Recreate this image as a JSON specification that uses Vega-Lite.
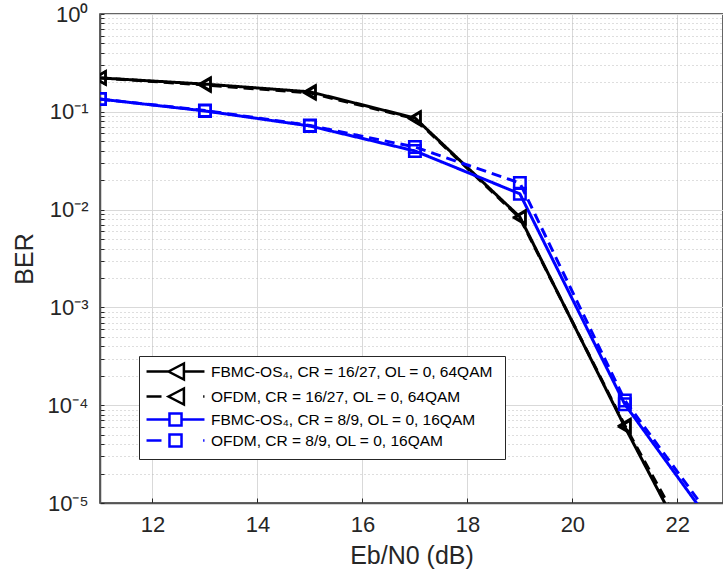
{
  "$schema": "https://vega.github.io/schema/vega-lite/v6.json",
  "width": 623,
  "height": 489,
  "autosize": "none",
  "padding": {"left": 100, "top": 14, "right": 0, "bottom": 78},
  "background": "white",
  "config": {"view": {"stroke": "#333333", "strokeWidth": 1.5}, "font": "Liberation Sans"},
  "data": {"values": [
    {"series": "f64", "marker": "tri", "dash": "solid", "ebn0": 11, "ber": 0.222},
    {"series": "f64", "marker": "tri", "dash": "solid", "ebn0": 13, "ber": 0.192},
    {"series": "f64", "marker": "tri", "dash": "solid", "ebn0": 15, "ber": 0.16},
    {"series": "f64", "marker": "tri", "dash": "solid", "ebn0": 17, "ber": 0.0865},
    {"series": "f64", "marker": "tri", "dash": "solid", "ebn0": 19, "ber": 0.0084},
    {"series": "f64", "marker": "tri", "dash": "solid", "ebn0": 21, "ber": 0.00006},
    {"series": "f64", "marker": "tri", "dash": "solid", "ebn0": 23, "ber": 0.00000054},
    {"series": "o64", "marker": "tri", "dash": "dashed", "ebn0": 11, "ber": 0.222},
    {"series": "o64", "marker": "tri", "dash": "dashed", "ebn0": 13, "ber": 0.188},
    {"series": "o64", "marker": "tri", "dash": "dashed", "ebn0": 15, "ber": 0.156},
    {"series": "o64", "marker": "tri", "dash": "dashed", "ebn0": 17, "ber": 0.085},
    {"series": "o64", "marker": "tri", "dash": "dashed", "ebn0": 19, "ber": 0.0082},
    {"series": "o64", "marker": "tri", "dash": "dashed", "ebn0": 21, "ber": 0.000062},
    {"series": "o64", "marker": "tri", "dash": "dashed", "ebn0": 23, "ber": 0.0000007},
    {"series": "f16", "marker": "sq", "dash": "solid", "ebn0": 11, "ber": 0.135},
    {"series": "f16", "marker": "sq", "dash": "solid", "ebn0": 13, "ber": 0.102},
    {"series": "f16", "marker": "sq", "dash": "solid", "ebn0": 15, "ber": 0.0716},
    {"series": "f16", "marker": "sq", "dash": "solid", "ebn0": 17, "ber": 0.0398},
    {"series": "f16", "marker": "sq", "dash": "solid", "ebn0": 19, "ber": 0.0145},
    {"series": "f16", "marker": "sq", "dash": "solid", "ebn0": 21, "ber": 0.000102},
    {"series": "f16", "marker": "sq", "dash": "solid", "ebn0": 23, "ber": 0.0000034},
    {"series": "o16", "marker": "sq", "dash": "dashed", "ebn0": 11, "ber": 0.135},
    {"series": "o16", "marker": "sq", "dash": "dashed", "ebn0": 13, "ber": 0.103},
    {"series": "o16", "marker": "sq", "dash": "dashed", "ebn0": 15, "ber": 0.0725},
    {"series": "o16", "marker": "sq", "dash": "dashed", "ebn0": 17, "ber": 0.0436},
    {"series": "o16", "marker": "sq", "dash": "dashed", "ebn0": 19, "ber": 0.0187},
    {"series": "o16", "marker": "sq", "dash": "dashed", "ebn0": 21, "ber": 0.000112},
    {"series": "o16", "marker": "sq", "dash": "dashed", "ebn0": 23, "ber": 0.0000039}
  ]},
  "encoding": {
    "x": {
      "field": "ebn0", "type": "quantitative",
      "scale": {"domain": [11, 22.87], "nice": false, "zero": false},
      "axis": {
        "title": "Eb/N0 (dB)", "titleFontSize": 25, "titleFontWeight": "normal", "titleColor": "#262626", "titlePadding": 8,
        "values": [12, 14, 16, 18, 20, 22],
        "labelFontSize": 22, "labelColor": "#262626", "labelPadding": 16,
        "tickSize": -5, "tickColor": "#262626", "tickWidth": 1,
        "domainColor": "#555555", "domainWidth": 1.5,
        "grid": true, "gridColor": "#d9d9d9", "gridWidth": 1
      }
    },
    "y": {
      "field": "ber", "type": "quantitative",
      "scale": {"type": "log", "domain": [0.00001, 1], "nice": false},
      "axis": {
        "title": "BER", "titleFontSize": 25, "titleFontWeight": "normal", "titleColor": "#262626", "titlePadding": 10,
        "values": [0.00001, 0.00002, 0.00003, 0.00004, 0.00005, 0.00006, 0.00007, 0.00008, 0.00009,
                   0.0001, 0.0002, 0.0003, 0.0004, 0.0005, 0.0006, 0.0007, 0.0008, 0.0009,
                   0.001, 0.002, 0.003, 0.004, 0.005, 0.006, 0.007, 0.008, 0.009,
                   0.01, 0.02, 0.03, 0.04, 0.05, 0.06, 0.07, 0.08, 0.09,
                   0.1, 0.2, 0.3, 0.4, 0.5, 0.6, 0.7, 0.8, 0.9, 1],
        "labelExpr": "abs(log(datum.value)/LN10 - round(log(datum.value)/LN10)) < 0.001 ? '10' + (['⁰','⁻¹','⁻²','⁻³','⁻⁴','⁻⁵'][-round(log(datum.value)/LN10)]) : ''",
        "labelFontSize": 22, "labelColor": "#262626", "labelPadding": 16, "labelOverlap": false, "labelBound": false, "labelFlush": false,
        "tickSize": -4, "tickColor": "#262626", "tickWidth": 1,
        "domainColor": "#555555", "domainWidth": 1.5,
        "grid": true,
        "gridColor": {"condition": {"test": "abs(log(datum.value)/LN10 - round(log(datum.value)/LN10)) < 0.001", "value": "#d9d9d9"}, "value": "#bdbdbd"},
        "gridDash": {"condition": {"test": "abs(log(datum.value)/LN10 - round(log(datum.value)/LN10)) < 0.001", "value": []}, "value": [1, 3]},
        "gridWidth": 1
      }
    },
    "color": {
      "field": "series", "type": "nominal",
      "scale": {"domain": ["f64", "o64", "f16", "o16"], "range": ["#000000", "#000000", "#0000ff", "#0000ff"]},
      "legend": {
        "orient": "none", "legendX": 39, "legendY": 342, "title": null,
        "padding": 7, "rowPadding": -2,
        "labelFontSize": 15.5, "labelColor": "#000000", "labelOffset": 48, "labelLimit": 400,
        "symbolSize": 196, "symbolStrokeWidth": 2.5,
        "fillColor": "white", "strokeColor": "#262626",
        "labelExpr": "datum.value == 'f64' ? 'FBMC-OS₄, CR =  16/27, OL = 0, 64QAM' : datum.value == 'o64' ? 'OFDM, CR = 16/27, OL = 0, 64QAM' : datum.value == 'f16' ? 'FBMC-OS₄, CR =  8/9, OL = 0, 16QAM' : 'OFDM, CR = 8/9, OL = 0, 16QAM'",
        "encode": {
          "symbols": {
            "update": {
              "shape": {"signal": "datum.value == 'f64' ? 'M-1.14,0H2.0M4.2,0H7.14M2.0,0L4.2,-1.15L4.2,1.15Z' : datum.value == 'o64' ? 'M-1.14,0H1.0M6.95,0H7.14M2.0,0L4.2,-1.15L4.2,1.15Z' : datum.value == 'f16' ? 'M-1.14,0H2.14M3.86,0H7.14M2.14,-0.86H3.86V0.86H2.14Z' : 'M-1.14,0H1.0M6.95,0H7.14M2.14,-0.86H3.86V0.86H2.14Z'"},
              "fill": {"value": "white"},
              "strokeDash": {"value": []},
              "opacity": {"value": 1},
              "strokeWidth": {"value": 2.5}
            }
          }
        }
      }
    }
  },
  "layer": [
    {
      "mark": {"type": "line", "strokeWidth": 3, "clip": true},
      "encoding": {
        "strokeDash": {
          "field": "dash", "type": "nominal",
          "scale": {"domain": ["solid", "dashed"], "range": [[1, 0], [10, 6]]},
          "legend": null
        }
      }
    },
    {
      "mark": {"type": "point", "filled": false, "strokeWidth": 2.5, "opacity": 1, "clip": true},
      "encoding": {
        "shape": {
          "field": "marker", "type": "nominal",
          "scale": {"domain": ["tri", "sq"], "range": ["M-0.85,0L0.85,-1L0.85,1Z", "square"]},
          "legend": null
        },
        "size": {
          "field": "marker", "type": "nominal",
          "scale": {"domain": ["tri", "sq"], "range": [169, 132]},
          "legend": null
        }
      }
    }
  ]
}
